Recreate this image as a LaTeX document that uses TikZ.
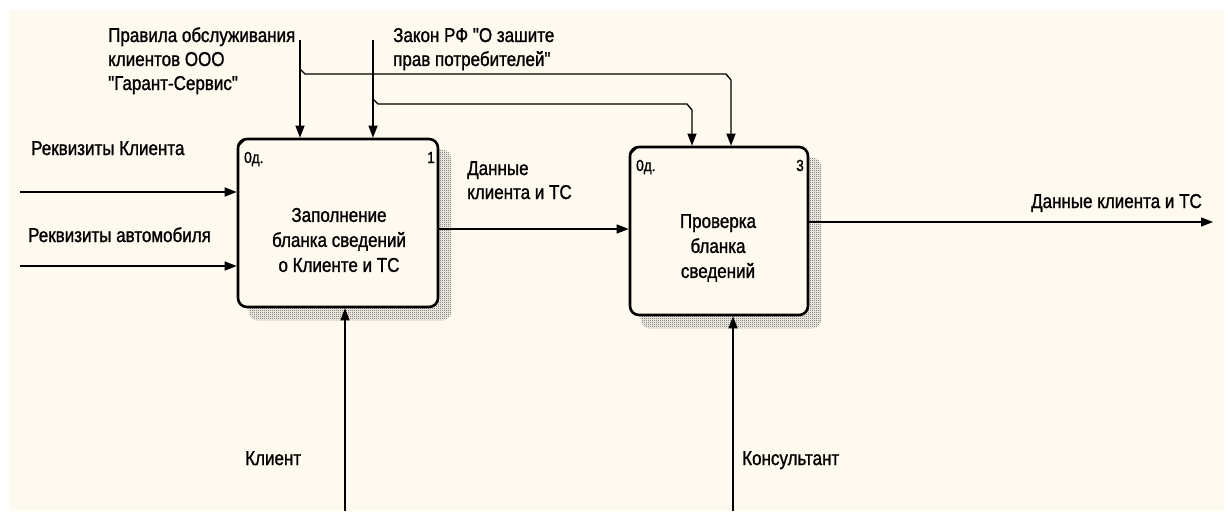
\documentclass[tikz,border=0pt]{standalone}
\usepackage{fontspec}
\setmainfont{Liberation Sans}[FakeStretch=0.85, FakeBold=1.2, Ligatures=TeXOff]
\usetikzlibrary{arrows.meta,patterns,backgrounds}

\definecolor{paper}{RGB}{255,250,240}
\definecolor{shade}{RGB}{80,80,80}

% one-pixel checkerboard used for the box shadows
\pgfdeclarepatternformonly{finechecker}{\pgfpointorigin}{\pgfpoint{2pt}{2pt}}{\pgfpoint{2pt}{2pt}}{%
  \pgfpathrectangle{\pgfpointorigin}{\pgfpoint{1pt}{1pt}}%
  \pgfpathrectangle{\pgfpoint{1pt}{1pt}}{\pgfpoint{1pt}{1pt}}%
  \pgfusepath{fill}%
}

\tikzset{
  proc/.style={draw, line width=2.6pt, rounded corners=9pt, fill=paper,
               inner sep=0pt, minimum width=#1},
  proc/.default=200pt,
  shadowbox/.style={pattern=finechecker, pattern color=shade, rounded corners=9pt},
  arr/.style={draw, line width=1.3pt, -{Triangle[length=12pt,width=9pt]}},
  lbl/.style={inner sep=0pt, font=\fontsize{20}{24}\selectfont, align=left},
  boxtxt/.style={inner sep=0pt, font=\fontsize{20}{25}\selectfont, align=center},
  corner/.style={inner sep=0pt, font=\fontsize{16}{16}\selectfont},
}

\begin{document}
\begin{tikzpicture}[x=1pt,y=-1pt]
\useasboundingbox (0,0) rectangle (1228,511);

% activity boxes
\node[proc=200pt, minimum height=168pt] (b1) at (338,223) {};
\node[proc=178pt, minimum height=168pt] (b2) at (719,231) {};

\begin{scope}[on background layer]
  \fill[paper] (9,10) rectangle (1224,511);
  \path[shadowbox] ([shift={(12,12)}]b1.north west) rectangle ([shift={(12,12)}]b1.south east);
  \path[shadowbox] ([shift={(12,12)}]b2.north west) rectangle ([shift={(12,12)}]b2.south east);
\end{scope}

% corner ticks
\draw[line width=1.4pt] ([shift={(1,9)}]b1.north west) -- ([shift={(9,1)}]b1.north west);
\draw[line width=1.4pt] ([shift={(1,9)}]b2.north west) -- ([shift={(9,1)}]b2.north west);

% box contents
\node[boxtxt] (t1) at (339,240) {Заполнение\\бланка сведений\\о Клиенте и ТС};
\node[boxtxt] (t2) at (718,248) {Проверка\\бланка\\сведений};
\node[corner, anchor=base west] (n1a) at (244,163) {0д.};
\node[corner, anchor=base east] (n1b) at (435,163) {1};
\node[corner, anchor=base west] (n2a) at (636,171) {0д.};
\node[corner, anchor=base east] (n2b) at (804,171) {3};

% inputs
\coordinate (inA) at (20,192);
\coordinate (inB) at (20,266);
\draw[arr] (inA) -- (inA -| b1.west);
\draw[arr] (inB) -- (inB -| b1.west);
\node[lbl, anchor=base west] (lA) at (31,155) {Реквизиты Клиента};
\node[lbl, anchor=base west] (lB) at (28,242) {Реквизиты автомобиля};

% controls
\coordinate (ctA) at (300,40);
\coordinate (ctB) at (373,40);
\draw[arr] (ctA) -- (ctA |- b1.north);
\draw[arr] (ctB) -- (ctB |- b1.north);
\coordinate (brA) at (300,69);
\coordinate (kA) at (731,80);
\draw[arr] (brA) -- (305,74) -- (726,74) -- (kA) -- (kA |- b2.north);
\coordinate (brB) at (373,99);
\coordinate (kB) at (692,110);
\draw[arr] (brB) -- (378,104) -- (687,104) -- (kB) -- (kB |- b2.north);
% multi-line labels: base anchor sits on the last line
\node[lbl, anchor=base west] (lC) at (108,90) {Правила обслуживания\\клиентов ООО\\"Гарант-Сервис"};
\node[lbl, anchor=base west] (lD) at (393,66) {Закон РФ "О зашите\\прав потребителей"};

% flow between the boxes
\coordinate (m1) at ([yshift=-6pt]b1.east);
\draw[arr] (m1) -- (m1 -| b2.west);
\node[lbl, anchor=base west] (lE) at (467,199) {Данные\\клиента и ТС};

% output
\coordinate (o1) at ([yshift=9pt]b2.east);
\coordinate (oEnd) at (1213,0);
\draw[arr] (o1) -- (o1 -| oEnd);
\node[lbl, anchor=base east] (lF) at (1202,208) {Данные клиента и ТС};

% mechanisms
\coordinate (mA) at (345,511);
\coordinate (mB) at (733,511);
\draw[arr] (mA) -- (mA |- b1.south);
\draw[arr] (mB) -- (mB |- b2.south);
\node[lbl, anchor=base west] (lG) at (245,465) {Клиент};
\node[lbl, anchor=base west] (lH) at (742,465) {Консультант};
\end{tikzpicture}
\end{document}
